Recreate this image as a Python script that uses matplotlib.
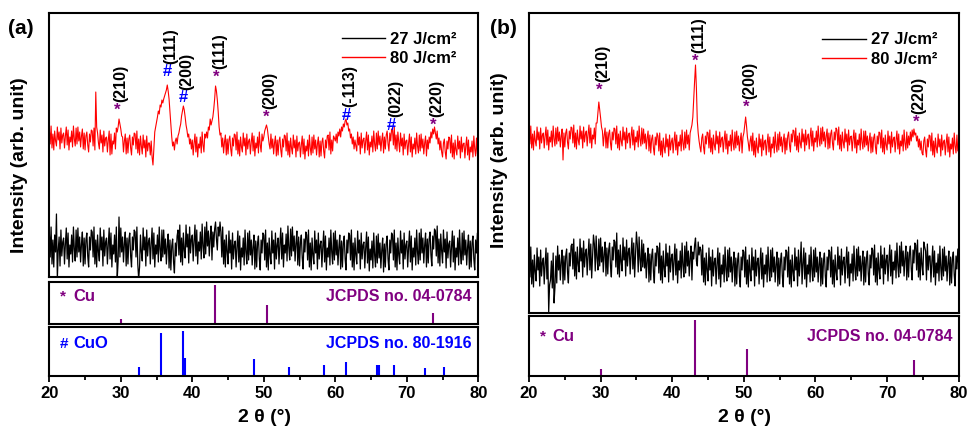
import numpy as np
import matplotlib
matplotlib.use('Agg')
import matplotlib.pyplot as plt
from matplotlib.ticker import MultipleLocator

plt.rcParams['font.family'] = ['Liberation Sans', 'DejaVu Sans']
plt.rcParams['font.weight'] = 'bold'

# ---- data (2theta from 20 to 80 deg, step 0.125) ----
# panel (a), intensity in arbitrary units (pixel-like scale of the axes)
red_a = [
    148, 133, 151, 129, 143, 127, 146, 136, 131, 150, 137, 145, 128, 149, 134, 142,
    144, 129, 141, 150, 132, 147, 127, 140, 135, 146, 130, 151, 138, 131, 149, 133,
    150, 136, 145, 130, 141, 148, 128, 144, 127, 141, 145, 132, 125, 143, 135, 147,
    146, 131, 149, 127, 185, 150, 144, 134, 128, 147, 134, 142, 125, 146, 131, 139,
    140, 125, 137, 146, 122, 143, 123, 136, 133, 144, 128, 149, 145, 150, 158, 153,
    148, 141, 140, 125, 136, 143, 123, 139, 124, 138, 142, 129, 122, 140, 132, 144,
    143, 128, 146, 124, 138, 122, 141, 131, 123, 142, 129, 137, 120, 141, 126, 134,
    134, 122, 136, 120, 112, 128, 145, 150, 155, 160, 166, 163, 172, 170, 177, 174,
    178, 181, 184, 187, 192, 186, 178, 165, 152, 140, 131, 135, 127, 136, 139, 133,
    141, 144, 149, 153, 161, 166, 171, 167, 160, 152, 147, 140, 143, 133, 138, 128,
    137, 122, 134, 143, 125, 140, 120, 133, 129, 140, 124, 145, 132, 125, 143, 139,
    145, 139, 150, 147, 158, 152, 156, 160, 168, 178, 191, 186, 177, 165, 150, 142,
    144, 130, 139, 124, 135, 142, 122, 138, 123, 137, 141, 128, 121, 139, 131, 143,
    142, 127, 145, 123, 137, 121, 140, 130, 125, 144, 131, 139, 122, 143, 128, 136,
    138, 123, 135, 144, 126, 141, 121, 134, 129, 140, 124, 145, 132, 125, 143, 136,
    140, 146, 149, 152, 148, 140, 133, 128, 143, 129, 138, 123, 134, 141, 121, 137,
    122, 136, 140, 127, 120, 138, 130, 142, 141, 126, 144, 122, 136, 120, 139, 129,
    123, 142, 129, 137, 120, 141, 126, 134, 135, 120, 132, 141, 123, 138, 118, 131,
    126, 137, 121, 142, 129, 122, 140, 124, 142, 128, 137, 122, 133, 140, 120, 136,
    121, 135, 139, 126, 119, 137, 129, 141, 142, 127, 145, 123, 137, 126, 141, 139,
    136, 143, 134, 145, 141, 148, 140, 150, 146, 153, 150, 156, 158, 152, 154, 146,
    148, 139, 143, 133, 140, 128, 137, 131, 126, 145, 132, 140, 123, 144, 129, 137,
    139, 124, 136, 145, 127, 142, 122, 135, 130, 141, 125, 146, 133, 126, 144, 128,
    146, 132, 141, 126, 137, 144, 124, 140, 128, 142, 146, 133, 126, 144, 136, 148,
    147, 132, 150, 128, 142, 126, 145, 135, 125, 144, 131, 139, 122, 143, 128, 136,
    137, 122, 134, 143, 125, 140, 120, 133, 128, 139, 123, 144, 131, 124, 142, 126,
    143, 129, 138, 123, 134, 141, 121, 137, 128, 140, 134, 145, 139, 148, 143, 150,
    144, 138, 146, 133, 139, 127, 136, 125, 120, 134, 138, 125, 118, 136, 128, 140,
    139, 124, 142, 120, 134, 118, 137, 127, 122, 141, 128, 136, 119, 140, 125, 133,
    134, 119, 131, 140, 122, 137, 117, 130, 125, 136, 120, 141, 128, 121, 139, 123,
    130,
]
black_a = [
    45, 20, 50, 13, 37, 10, 42, 25, 63, -2, 27, 40, 11, 47, 21, 35,
    39, 13, 33, 49, 18, 44, 10, 32, 23, 42, 15, 50, 28, 16, 47, 20,
    49, 25, 40, 15, 33, 45, 11, 39, 13, 37, 44, 21, 10, 40, 27, 47,
    45, 20, 50, 13, 37, 10, 42, 25, 16, 49, 27, 40, 11, 47, 21, 35,
    39, 13, 33, 49, 18, 44, 10, 32, 23, 42, 15, 50, -2, 16, 60, 20,
    49, 25, 40, 15, 33, 45, 11, 39, 13, 37, 44, 21, 10, 40, 27, 47,
    45, 20, 50, 13, -2, 10, 42, 25, 16, 49, 27, 40, 11, 47, 21, 35,
    39, 13, 33, 49, 18, 44, 10, 32, 23, 42, 15, 50, 28, 16, 47, 20,
    47, 23, 38, 13, 31, 43, 9, 37, 7, 31, 38, 15, 4, 34, 21, 41,
    47, 22, 52, 15, 39, 12, 44, 27, 19, 52, 30, 43, 14, 50, 24, 38,
    42, 16, 36, 52, 21, 47, 13, 35, 26, 45, 18, 53, 31, 19, 50, 23,
    55, 31, 46, 21, 39, 51, 17, 45, 30, 48, 55, 38, 27, 50, 41, 55,
    45, 20, 50, 13, 37, 10, 42, 25, 13, 46, 24, 37, 8, 44, 18, 32,
    36, 10, 30, 46, 15, 41, 7, 29, 20, 39, 12, 47, 25, 13, 44, 17,
    46, 22, 37, 12, 30, 42, 8, 36, 10, 34, 41, 18, 7, 37, 24, 44,
    42, 17, 47, 10, 34, 7, 39, 22, 13, 46, 24, 37, 8, 44, 18, 32,
    39, 13, 33, 49, 18, 44, 10, 32, 24, 43, 16, 51, 29, 17, 48, 21,
    50, 26, 41, 16, 34, 46, 12, 40, 11, 35, 42, 19, 8, 38, 25, 45,
    42, 17, 47, 10, 34, 7, 39, 22, 13, 46, 24, 37, 8, 44, 18, 32,
    36, 10, 30, 46, 15, 41, 7, 29, 20, 39, 12, 47, 25, 13, 44, 17,
    46, 22, 37, 12, 30, 42, 8, 36, 10, 34, 41, 18, 7, 37, 24, 44,
    42, 17, 47, 10, 34, 7, 39, 22, 13, 46, 24, 37, 8, 44, 18, 32,
    35, 9, 29, 45, 14, 40, 6, 28, 17, 36, 9, 44, 22, 10, 41, 14,
    43, 19, 34, 9, 27, 39, 5, 33, 10, 34, 41, 18, 7, 37, 24, 44,
    42, 17, 47, 10, 34, 7, 39, 22, 13, 46, 24, 37, 8, 44, 18, 32,
    36, 10, 30, 46, 15, 41, 7, 29, 20, 39, 12, 47, 25, 13, 44, 17,
    48, 24, 39, 14, 32, 44, 10, 38, 14, 38, 45, 22, 11, 41, 28, 48,
    46, 21, 51, 14, 38, 11, 43, 26, 14, 47, 25, 38, 9, 45, 19, 33,
    36, 10, 30, 46, 15, 41, 7, 29, 20, 39, 12, 47, 25, 13, 44, 17,
    46, 22, 37, 12, 30, 42, 8, 36, 10, 34, 41, 18, 7, 37, 24, 44,
    30,
]
# panel (b)
red_b = [
    184, 169, 187, 165, 179, 163, 182, 172, 167, 186, 173, 181, 164, 185, 170, 178,
    180, 165, 177, 186, 168, 183, 163, 176, 171, 182, 166, 187, 174, 167, 185, 169,
    186, 172, 181, 166, 177, 184, 153, 180, 166, 180, 184, 171, 164, 182, 174, 186,
    185, 170, 188, 166, 180, 164, 183, 173, 168, 187, 174, 182, 165, 186, 171, 179,
    182, 167, 179, 188, 170, 185, 165, 178, 174, 185, 169, 190, 190, 200, 211, 203,
    195, 186, 182, 167, 178, 185, 165, 181, 165, 179, 183, 170, 163, 181, 173, 185,
    184, 169, 187, 165, 179, 163, 182, 172, 167, 186, 173, 181, 164, 185, 170, 178,
    180, 165, 177, 186, 168, 183, 163, 176, 171, 182, 166, 187, 174, 167, 185, 169,
    184, 170, 179, 164, 175, 182, 162, 178, 160, 174, 178, 165, 158, 176, 168, 180,
    177, 162, 180, 158, 172, 156, 175, 165, 160, 179, 166, 174, 157, 178, 163, 171,
    175, 160, 172, 181, 163, 178, 158, 171, 167, 178, 162, 183, 170, 163, 181, 165,
    183, 169, 178, 163, 180, 184, 188, 196, 215, 232, 248, 225, 192, 180, 172, 166,
    161, 175, 179, 166, 159, 177, 169, 181, 180, 165, 183, 161, 175, 159, 178, 168,
    163, 182, 169, 177, 160, 181, 166, 174, 176, 161, 173, 182, 164, 179, 159, 172,
    167, 178, 162, 183, 170, 163, 181, 165, 182, 168, 177, 162, 173, 180, 160, 176,
    180, 188, 196, 187, 176, 170, 162, 172, 177, 162, 180, 158, 172, 156, 175, 165,
    160, 179, 166, 174, 157, 178, 163, 171, 173, 158, 170, 179, 161, 176, 156, 169,
    165, 176, 160, 181, 168, 161, 179, 163, 181, 167, 176, 161, 172, 179, 159, 175,
    163, 177, 181, 168, 161, 179, 171, 183, 182, 167, 185, 163, 177, 161, 180, 170,
    165, 184, 171, 179, 162, 183, 168, 176, 179, 164, 176, 185, 167, 182, 162, 175,
    171, 182, 166, 187, 174, 167, 185, 169, 186, 172, 181, 166, 177, 184, 164, 180,
    165, 179, 183, 170, 163, 181, 173, 185, 183, 168, 186, 164, 178, 162, 181, 171,
    165, 184, 171, 179, 162, 183, 168, 176, 177, 162, 174, 183, 165, 180, 160, 173,
    168, 179, 163, 184, 171, 164, 182, 166, 182, 168, 177, 162, 173, 180, 160, 176,
    161, 175, 179, 166, 159, 177, 169, 181, 180, 165, 183, 161, 175, 159, 178, 168,
    163, 182, 169, 177, 160, 181, 166, 174, 176, 161, 173, 182, 164, 179, 159, 172,
    167, 178, 162, 183, 170, 163, 181, 165, 177, 168, 181, 172, 183, 176, 184, 178,
    180, 172, 177, 166, 174, 163, 172, 160, 158, 172, 176, 163, 156, 174, 166, 178,
    177, 162, 180, 158, 172, 156, 175, 165, 160, 179, 166, 174, 157, 178, 163, 171,
    173, 158, 170, 179, 161, 176, 156, 169, 164, 175, 159, 180, 167, 160, 178, 162,
    166,
]
black_b = [
    61, 36, 66, 29, 53, 26, 58, 41, 32, 65, 43, 56, 27, 63, 37, 51,
    55, 29, 49, 65, 34, 60, 1, 28, 33, 52, 25, 60, 10, 26, 57, 30,
    67, 43, 58, 33, 51, 63, 29, 57, 33, 57, 64, 41, 30, 60, 47, 67,
    69, 44, 74, 37, 61, 34, 66, 49, 41, 74, 52, 65, 36, 72, 46, 60,
    64, 38, 58, 74, 43, 69, 35, 57, 78, 69, 42, 77, 55, 43, 74, 47,
    75, 51, 66, 41, 59, 71, 37, 65, 39, 63, 70, 47, 36, 66, 53, 73,
    71, 46, 80, 39, 63, 36, 68, 51, 42, 75, 53, 66, 37, 73, 47, 61,
    65, 39, 59, 75, 44, 70, 36, 58, 81, 68, 41, 76, 54, 42, 73, 46,
    69, 45, 60, 35, 53, 65, 31, 59, 33, 57, 64, 41, 30, 60, 47, 67,
    65, 40, 70, 33, 57, 30, 62, 45, 36, 69, 47, 60, 31, 67, 41, 55,
    59, 33, 53, 69, 38, 64, 30, 52, 43, 62, 35, 70, 48, 36, 67, 40,
    71, 47, 62, 37, 55, 67, 33, 61, 54, 68, 75, 52, 47, 71, 58, 66,
    63, 38, 68, 31, 55, 28, 60, 43, 32, 65, 43, 56, 27, 63, 37, 51,
    55, 29, 49, 65, 34, 60, 26, 48, 39, 58, 31, 66, 44, 32, 63, 36,
    65, 41, 56, 31, 49, 61, 27, 55, 29, 53, 60, 37, 26, 56, 43, 63,
    61, 36, 66, 29, 53, 26, 58, 41, 32, 65, 43, 56, 27, 63, 37, 51,
    55, 29, 49, 65, 34, 60, 26, 48, 39, 58, 31, 66, 44, 32, 63, 36,
    65, 41, 56, 31, 49, 61, 27, 55, 29, 53, 60, 37, 26, 56, 43, 63,
    61, 36, 66, 29, 53, 26, 58, 41, 32, 65, 43, 56, 27, 63, 37, 51,
    71, 29, 49, 65, 34, 60, 26, 48, 39, 58, 31, 66, 44, 32, 63, 36,
    65, 41, 56, 31, 49, 61, 27, 55, 29, 53, 60, 37, 26, 56, 43, 63,
    61, 36, 66, 29, 53, 26, 58, 41, 33, 66, 44, 57, 28, 64, 38, 52,
    56, 30, 50, 66, 35, 61, 27, 49, 40, 59, 32, 67, 45, 33, 64, 37,
    66, 42, 57, 32, 50, 62, 28, 56, 31, 55, 62, 39, 28, 58, 45, 65,
    63, 38, 68, 31, 55, 28, 60, 43, 34, 67, 45, 58, 29, 65, 39, 53,
    58, 32, 52, 68, 37, 63, 29, 51, 43, 62, 35, 70, 48, 36, 67, 40,
    71, 47, 62, 37, 55, 67, 33, 61, 36, 60, 67, 44, 33, 63, 50, 70,
    68, 43, 73, 36, 60, 33, 65, 48, 38, 71, 66, 62, 33, 69, 43, 57,
    57, 31, 51, 67, 36, 62, 28, 50, 40, 59, 32, 67, 45, 33, 64, 37,
    66, 42, 57, 32, 50, 62, 28, 56, 30, 54, 61, 38, 27, 57, 44, 64,
    48,
]

# reference patterns
cu_pos = [30.0, 43.2, 50.4, 73.7]
cu_int = [12, 100, 49, 29]
cuo_pos = [32.5, 35.6, 38.7, 38.95, 48.65, 53.55, 58.4, 61.5, 65.8, 66.1, 68.2, 72.5, 75.2]
cuo_int = [19, 95, 100, 39, 37, 21, 24, 30, 24, 24, 24, 18, 19]

# peak markers: (2theta, height of the symbol, symbol, hkl)
peaks_a = [
    (29.5, 167, '*', '(210)'),
    (36.5, 205, '#', '(111)'),
    (38.7, 179, '#', '(200)'),
    (43.3, 200, '*', '(111)'),
    (50.3, 160, '*', '(200)'),
    (61.5, 162, '#', '(-113)'),
    (67.9, 152, '#', '(022)'),
    (73.7, 152, '*', '(220)'),
]
peaks_b = [
    (29.8, 223, '*', '(210)'),
    (43.2, 252, '*', '(111)'),
    (50.3, 206, '*', '(200)'),
    (74.0, 191, '*', '(220)'),
]

PURPLE = '#800080'
BLUE = '#0000ff'
W, H = 968, 426


def box(left, top, right, bottom):
    """pixel box -> figure fraction rect"""
    return [left / W, 1 - bottom / H, (right - left) / W, (bottom - top) / H]


def style(ax, bottom=False):
    for s in ax.spines.values():
        s.set_linewidth(1.5)
    ax.set_xlim(20, 80)
    ax.set_yticks([])
    if bottom:
        ax.xaxis.set_major_locator(MultipleLocator(10))
        ax.xaxis.set_minor_locator(MultipleLocator(5))
        ax.tick_params(axis='x', which='both', direction='out', width=1.3, labelsize=12)
        ax.tick_params(axis='x', which='major', length=4)
        ax.tick_params(axis='x', which='minor', length=3)
    else:
        ax.set_xticks([])


def main_panel(ax, black, red, peaks, ytop):
    x = np.linspace(20, 80, len(red))
    ax.plot(x, black, color='black', lw=0.9, label='27 J/cm²')
    ax.plot(x, red, color='red', lw=0.8, label='80 J/cm²')
    ax.set_ylim(0, ytop)
    style(ax)
    for px, py, sym, hkl in peaks:
        c = PURPLE if sym == '*' else BLUE
        ax.text(px, py, sym, color=c, fontsize=12, ha='center', va='center')
        ax.annotate(hkl, (px, py), xytext=(2.5, 6), textcoords='offset points',
                    rotation=90, ha='center', va='bottom', fontsize=11.5)
    leg = ax.legend(loc='upper right', bbox_to_anchor=(0.985, 0.985), frameon=False,
                    fontsize=12, handlelength=2.6, handletextpad=0.3, labelspacing=0.25)
    for line in leg.get_lines():
        line.set_linewidth(1.0)


def ref_panel(ax, pos, inten, color, sym, name, card, bottom=False):
    ax.vlines(pos, 0, inten, color=color, lw=1.5)
    ax.set_ylim(0, 108)
    style(ax, bottom)
    ax.text(0.025, 0.66, sym, color=color, fontsize=11, transform=ax.transAxes,
            ha='left', va='center')
    ax.text(0.055, 0.66, name, color=color, fontsize=12, transform=ax.transAxes,
            ha='left', va='center')
    ax.text(0.985, 0.66, card, color=color, fontsize=11.5, transform=ax.transAxes,
            ha='right', va='center')


fig = plt.figure(figsize=(W / 100, H / 100), dpi=100)

ax_a = fig.add_axes(box(49.3, 13, 478.3, 277))
ax_a_cu = fig.add_axes(box(49.3, 282, 478.3, 324))
ax_a_cuo = fig.add_axes(box(49.3, 327.3, 478.3, 376))
ax_b = fig.add_axes(box(529, 13, 958.7, 313))
ax_b_cu = fig.add_axes(box(529, 316, 958.7, 376))

main_panel(ax_a, black_a, red_a, peaks_a, 264)
main_panel(ax_b, black_b, red_b, peaks_b, 300)

ref_panel(ax_a_cu, cu_pos, cu_int, PURPLE, '*', 'Cu', 'JCPDS no. 04-0784')
ref_panel(ax_a_cuo, cuo_pos, cuo_int, BLUE, '#', 'CuO', 'JCPDS no. 80-1916', bottom=True)
ref_panel(ax_b_cu, cu_pos, cu_int, PURPLE, '*', 'Cu', 'JCPDS no. 04-0784', bottom=True)

# labels
fig.text(21 / W, 1 - 28 / H, '(a)', fontsize=15, ha='center', va='center')
fig.text(503 / W, 1 - 28 / H, '(b)', fontsize=15, ha='center', va='center')
fig.text(20 / W, 1 - 165 / H, 'Intensity (arb. unit)', rotation=90, fontsize=14,
         ha='center', va='center')
fig.text(500 / W, 1 - 160 / H, 'Intensity (arb. unit)', rotation=90, fontsize=14,
         ha='center', va='center')
fig.text(264 / W, 1 - 417 / H, '2 θ (°)', fontsize=14, ha='center', va='center')
fig.text(744 / W, 1 - 417 / H, '2 θ (°)', fontsize=14, ha='center', va='center')

fig.savefig('out.png', dpi=100)
